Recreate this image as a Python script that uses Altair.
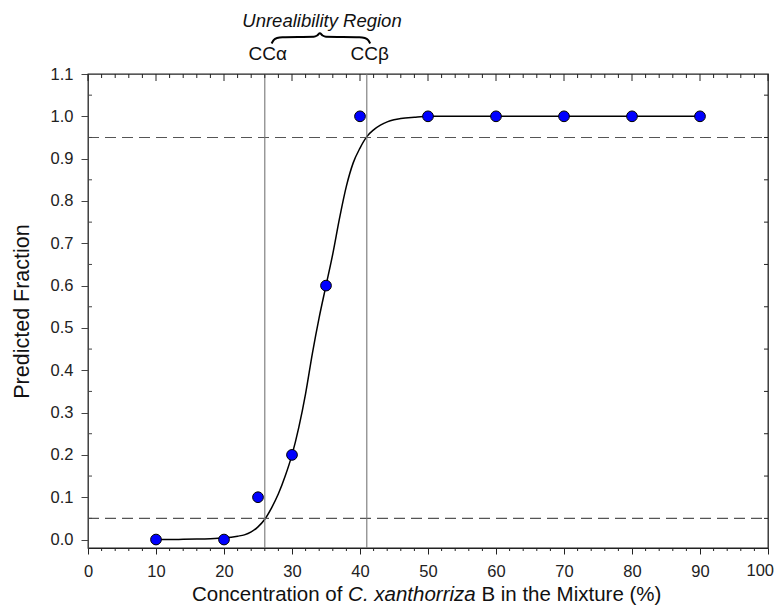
import altair as alt
import pandas as pd

# observed points
conc = [10, 20, 25, 30, 35, 40, 50, 60, 70, 80, 90]
frac = [0.0, 0.0, 0.1, 0.2, 0.6, 1.0, 1.0, 1.0, 1.0, 1.0, 1.0]

# fitted curve
curve_x = [10, 12, 14, 16, 18, 20, 22, 23, 24, 25, 26, 27, 28, 29, 30, 31, 32, 33, 34, 35,
           36, 37, 38, 39, 40, 41, 42, 43, 44, 45, 46, 48, 50, 60, 70, 80, 90]
curve_y = [0.0, 0.0, 0.0005, 0.001, 0.002, 0.004, 0.008, 0.011, 0.018, 0.030, 0.048, 0.075,
           0.108, 0.150, 0.200, 0.265, 0.345, 0.44, 0.525, 0.60, 0.675, 0.76, 0.835, 0.89,
           0.925, 0.952, 0.968, 0.979, 0.987, 0.992, 0.995, 0.998, 1.0, 1.0, 1.0, 1.0, 1.0]

cc_limits = [26, 41]
cc_labels = ["CCα", "CCβ"]
h_limits = [0.05, 0.95]

x_major = list(range(0, 101, 10))
x_minor = [v for v in range(0, 101, 2) if v % 10 != 0]
y_major = [round(v * 0.1, 1) for v in range(0, 12)]
y_minor = [round(0.05 + 0.1 * v, 2) for v in range(0, 11)]
last_label = ["100"]

# brace above the region (data coords, drawn outside the plot)
brace_x = [27.0, 27.3, 27.8, 28.6, 33.2, 33.7, 34.1, 34.5, 35.0, 39.9, 40.7, 41.2, 41.5]
brace_y = [1.172, 1.180, 1.185, 1.187, 1.188, 1.191, 1.196, 1.191, 1.188, 1.187, 1.185, 1.180, 1.172]

FONT = "Liberation Sans"
W, H = 680, 474
TF = 20.5  # x-title font size

xs = alt.Scale(domain=[0, 100], nice=False)
ys = alt.Scale(domain=[-0.02, 1.1], nice=False)

pts = pd.DataFrame({"x": conc, "y": frac})
crv = pd.DataFrame({"x": curve_x, "y": curve_y})
vl = pd.DataFrame({"x": cc_limits, "lab": cc_labels})
hl = pd.DataFrame({"y": h_limits})
brace = pd.DataFrame({"x": brace_x, "y": brace_y, "o": list(range(len(brace_x)))})
xmaj = pd.DataFrame({"x": x_major})
xmin = pd.DataFrame({"x": x_minor})
ymin = pd.DataFrame({"y": y_minor})

base_x = alt.X("x:Q", scale=xs,
               axis=alt.Axis(values=x_major, title=None, tickSize=6, labelPadding=9,
                             labelFontSize=16.5, labelFont=FONT, labelColor="#222",
                             labelExpr="datum.value == 100 ? '' : datum.label",
                             domainColor="#222", tickColor="#222", grid=False,
                             labelFlush=False))
base_y = alt.Y("y:Q", scale=ys,
               axis=alt.Axis(values=y_major, format=".1f", title="Predicted Fraction",
                             titleFontSize=21.5, titleFont=FONT, titleFontWeight="normal",
                             titleColor="#111", titlePadding=17,
                             tickSize=7, labelPadding=8, labelFontSize=16.5, labelFont=FONT,
                             labelColor="#222", domainColor="#444", tickColor="#444",
                             grid=False))

hlines = alt.Chart(hl).mark_rule(color="#555", strokeWidth=1.2, strokeDash=[11, 6]).encode(
    y=alt.Y("y:Q", scale=ys), x=alt.value(0), x2=alt.value(W))
vlines = alt.Chart(vl).mark_rule(color="#777", strokeWidth=1.1).encode(
    x=alt.X("x:Q", scale=xs), y=alt.value(0), y2=alt.value(H))
curve = alt.Chart(crv).mark_line(color="black", strokeWidth=1.5, interpolate="monotone").encode(
    x=base_x, y=base_y)
points = alt.Chart(pts).mark_point(filled=True, shape="circle", size=115, fill="#0000ff",
                                   stroke="black", strokeWidth=1, opacity=1).encode(
    x=alt.X("x:Q", scale=xs), y=alt.Y("y:Q", scale=ys))

# extra ticks
bot_minor = alt.Chart(xmin).mark_rule(color="#222").encode(
    x=alt.X("x:Q", scale=xs), y=alt.value(H), y2=alt.value(H + 3))
top_minor = alt.Chart(xmin).mark_rule(color="#222").encode(
    x=alt.X("x:Q", scale=xs), y=alt.value(0), y2=alt.value(4))
top_major = alt.Chart(xmaj).mark_rule(color="#222").encode(
    x=alt.X("x:Q", scale=xs), y=alt.value(0), y2=alt.value(7))
left_minor = alt.Chart(ymin).mark_rule(color="#444").encode(
    y=alt.Y("y:Q", scale=ys), x=alt.value(0), x2=alt.value(4))
right_minor = alt.Chart(ymin).mark_rule(color="#222").encode(
    y=alt.Y("y:Q", scale=ys), x=alt.value(W - 4), x2=alt.value(W))

# last tick label, kept inside the page
lab100 = alt.Chart(pd.DataFrame({"t": last_label})).mark_text(
    fontSize=16.5, font=FONT, baseline="top", align="right", color="#222").encode(
    x=alt.value(W + 6), y=alt.value(H + 15), text="t:N")

# annotations
cc_text = alt.Chart(vl).mark_text(fontSize=19, font=FONT, baseline="alphabetic",
                                  align="center", dx=3, color="#111").encode(
    x=alt.X("x:Q", scale=xs), y=alt.value(-14), text="lab:N")
region = alt.Chart(pd.DataFrame({"t": ["Unrealibility Region"]})).mark_text(
    fontSize=18.5, font=FONT, fontStyle="italic", baseline="alphabetic", align="center",
    color="#111").encode(x=alt.value(234), y=alt.value(-47), text="t:N")
brace_line = alt.Chart(brace).mark_line(color="black", strokeWidth=2,
                                        interpolate="monotone").encode(
    x=alt.X("x:Q", scale=xs), y=alt.Y("y:Q", scale=ys), order="o:Q")

x0 = 104  # left edge of the x title (plot coords)
xt1 = alt.Chart(pd.DataFrame({"t": ["Concentration of"]})).mark_text(
    fontSize=TF, font=FONT, baseline="alphabetic", align="left", color="#111").encode(
    x=alt.value(x0), y=alt.value(527), text="t:N")
xt2 = alt.Chart(pd.DataFrame({"t": ["C. xanthorriza"]})).mark_text(
    fontSize=TF, font=FONT, fontStyle="italic", baseline="alphabetic", align="left",
    color="#111").encode(x=alt.value(x0 + 7.615 * TF), y=alt.value(527), text="t:N")
xt3 = alt.Chart(pd.DataFrame({"t": ["B in the Mixture (%)"]})).mark_text(
    fontSize=TF, font=FONT, baseline="alphabetic", align="left", color="#111").encode(
    x=alt.value(x0 + 14.117 * TF), y=alt.value(527), text="t:N")

chart = alt.layer(
    curve, hlines, vlines, bot_minor, top_minor, top_major, left_minor, right_minor,
    points, lab100, cc_text, region, brace_line, xt1, xt2, xt3
).properties(
    width=W, height=H,
    autosize=alt.AutoSizeParams(type="none"),
    padding={"left": 80, "top": 66, "right": 6, "bottom": 57},
    background="white",
).configure_view(stroke="#222", strokeWidth=1.3)

chart.save("out.html", embed_options={"renderer": "svg", "actions": False})
